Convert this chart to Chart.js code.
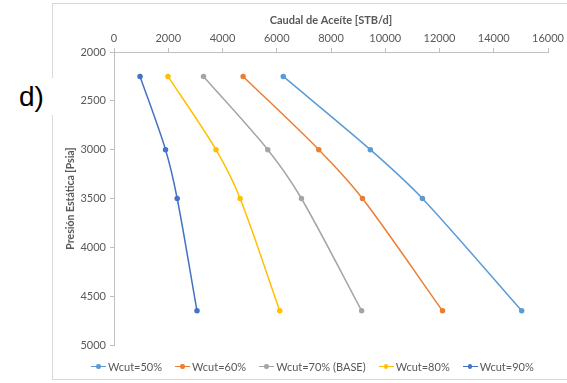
<!DOCTYPE html>
<html>
<head>
<meta charset="utf-8">
<script src="https://cdn.jsdelivr.net/npm/chart.js@4"></script>
<style>
  html, body { margin: 0; padding: 0; background: #fff; }
  #wrap { position: relative; width: 567px; height: 383px; overflow: hidden; font-family: Lato, "Open Sans", sans-serif; }
  #frame { position: absolute; left: 52px; top: 3px; width: 600px; height: 377px; border: 1px solid #d9d9d9; box-sizing: border-box; }
  canvas { position: absolute; left: 0; top: 0; }
  #tag { position: absolute; left: 19px; top: 78px; width: 35px; height: 37px; background: #fff; font-family: "Liberation Sans", Arial, sans-serif; font-size: 28px; line-height: 37px; color: #000; }
  #legend { position: absolute; left: 91px; top: 360px; display: flex; font-size: 11px; color: #595959; white-space: nowrap; }
  .item { display: flex; align-items: center; margin-right: 13px; }
  .mk { position: relative; width: 15px; height: 10px; margin-right: 2px; }
  .mk .ln { position: absolute; left: 0; top: 4px; width: 15px; height: 1.5px; }
  .mk .dt { position: absolute; left: 5px; top: 2.5px; width: 4.5px; height: 4.5px; border-radius: 50%; }
</style>
</head>
<body>
<div id="wrap">
  <div id="frame"></div>
  <canvas id="c" width="567" height="383"></canvas>
  <div id="tag">d)</div>
  <div id="legend"></div>
</div>
<script>
const pressure = [2250, 3000, 3500, 4650];
const seriesNames = ["Wcut=50%", "Wcut=60%", "Wcut=70% (BASE)", "Wcut=80%", "Wcut=90%"];
const wc50 = [6240, 9450, 11370, 15030];
const wc60 = [4760, 7550, 9160, 12110];
const wc70 = [3300, 5670, 6910, 9130];
const wc80 = [1990, 3760, 4650, 6110];
const wc90 = [960, 1900, 2330, 3060];
const xTicks = [0, 2000, 4000, 6000, 8000, 10000, 12000, 14000, 16000];
const yTicks = [2000, 2500, 3000, 3500, 4000, 4500, 5000];
const colors = ["#5B9BD5", "#ED7D31", "#A5A5A5", "#FFC000", "#4472C4"];

const allSeries = [wc50, wc60, wc70, wc80, wc90];
const datasets = allSeries.map((vals, i) => ({
  label: seriesNames[i],
  data: vals.map((v, j) => ({ x: v, y: pressure[j] })),
  borderColor: colors[i],
  backgroundColor: colors[i],
  borderWidth: 1.5,
  pointRadius: 2,
  pointHoverRadius: 2,
  showLine: true,
  tension: 0.3
}));

const tickColor = "#595959";
const axisColor = "#bfbfbf";
const plain = v => String(v);

new Chart(document.getElementById("c"), {
  type: "scatter",
  data: { datasets },
  options: {
    responsive: false,
    animation: false,
    layout: { padding: { left: 0, top: 0, right: 19, bottom: 38 } },
    plugins: { legend: { display: false }, tooltip: { enabled: false } },
    scales: {
      x: {
        type: "linear",
        position: "top",
        min: 0, max: 16000,
        afterBuildTicks: s => { s.ticks = xTicks.map(v => ({ value: v })); },
        afterFit: s => { s.height = 52; },
        ticks: { color: tickColor, font: { family: "Lato", size: 11 }, padding: 3, maxRotation: 0, callback: plain },
        grid: { drawOnChartArea: false, drawTicks: true, tickLength: 4, color: axisColor },
        border: { color: axisColor },
        title: { display: true, text: "Caudal de Aceíte [STB/d]", color: tickColor, font: { family: "Lato", size: 11, weight: "bold" }, padding: { top: 14, bottom: 0 } }
      },
      y: {
        type: "linear",
        reverse: true,
        min: 2000, max: 5000,
        afterBuildTicks: s => { s.ticks = yTicks.map(v => ({ value: v })); },
        afterFit: s => { s.width = 114; },
        ticks: { color: tickColor, font: { family: "Lato", size: 11 }, padding: 4, callback: plain },
        grid: { drawOnChartArea: false, drawTicks: true, tickLength: 4, color: axisColor },
        border: { color: axisColor },
        title: { display: true, text: "Presión Estática [Psia]", color: tickColor, font: { family: "Lato", size: 10.5, weight: "bold" }, padding: { top: 64, bottom: 0 } }
      }
    }
  }
});

const leg = document.getElementById("legend");
seriesNames.forEach((n, i) => {
  const it = document.createElement("div");
  it.className = "item";
  it.innerHTML = '<div class="mk"><div class="ln" style="background:' + colors[i] + '"></div><div class="dt" style="background:' + colors[i] + '"></div></div><span>' + n + '</span>';
  leg.appendChild(it);
});
</script>
</body>
</html>
